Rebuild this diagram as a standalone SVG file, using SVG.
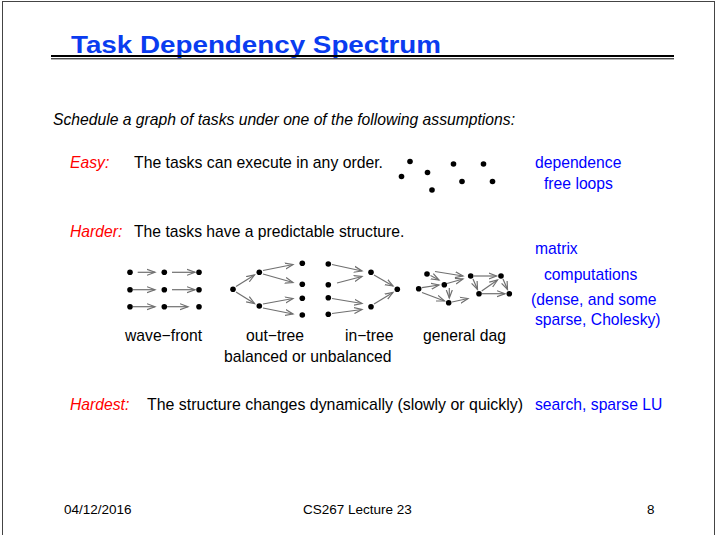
<svg xmlns="http://www.w3.org/2000/svg" width="717" height="535" viewBox="0 0 717 535">
<style>
.t{font-family:"Liberation Sans",Arial,sans-serif;font-size:15.7px;fill:#000}
.i{font-style:italic}
.r{fill:#ff0000}
.b{fill:#0000ff}
.f{font-family:"Liberation Sans",Arial,sans-serif;font-size:13.5px;fill:#000}
.e line{stroke:#707070;stroke-width:1.2;marker-end:url(#ah)}
.d circle{fill:#000}
</style>
<defs>
<marker id="ah" markerUnits="userSpaceOnUse" markerWidth="10" markerHeight="8" refX="8" refY="4" orient="auto">
<path d="M0,1 L8,4 L0,7" fill="none" stroke="#707070" stroke-width="1.2"/>
</marker>
</defs>
<rect width="717" height="535" fill="#fff"/>
<rect x="2.5" y="1.5" width="712" height="540" fill="none" stroke="#444" stroke-width="1"/>

<g id="title">
<text x="71" y="53" font-family="'Liberation Sans',Arial,sans-serif" font-size="23" font-weight="bold" fill="#0a3cf0" textLength="370" lengthAdjust="spacingAndGlyphs">Task Dependency Spectrum</text>
<line x1="51" y1="56" x2="674" y2="56" stroke="#000" stroke-width="2"/>
<line x1="51" y1="58.8" x2="674" y2="58.8" stroke="#000" stroke-width="1"/>
</g>

<g id="intro"><text class="t i" x="53" y="125" textLength="462" lengthAdjust="spacingAndGlyphs">Schedule a graph of tasks under one of the following assumptions:</text></g>

<g id="easy">
<text class="t i r" x="70" y="168">Easy:</text>
<text class="t" x="134" y="168" textLength="249" lengthAdjust="spacingAndGlyphs">The tasks can execute in any order.</text>
<g class="d">
<circle cx="410" cy="161.5" r="2.8"/><circle cx="401.5" cy="176.5" r="2.8"/><circle cx="427.5" cy="172.5" r="2.8"/><circle cx="432" cy="190" r="2.8"/>
<circle cx="453.5" cy="164" r="2.8"/><circle cx="462" cy="181.5" r="2.8"/><circle cx="483.5" cy="164" r="2.8"/><circle cx="492.5" cy="181.5" r="2.8"/>
</g>
<text class="t b" x="535" y="168">dependence</text>
<text class="t b" x="544" y="189">free loops</text>
</g>

<g id="harder">
<text class="t i r" x="70" y="237">Harder:</text>
<text class="t" x="134" y="237">The tasks have a predictable structure.</text>
<text class="t b" x="535" y="254">matrix</text>
<text class="t b" x="544" y="280">computations</text>
<text class="t b" x="531" y="305">(dense, and some</text>
<text class="t b" x="535" y="325">sparse, Cholesky)</text>
</g>

<g id="wavefront">
<g class="d">
<circle cx="130" cy="272.3" r="2.8"/><circle cx="164.3" cy="272.3" r="2.8"/><circle cx="199" cy="272.3" r="2.8"/>
<circle cx="130" cy="289.7" r="2.8"/><circle cx="164.3" cy="289.7" r="2.8"/><circle cx="199" cy="289.7" r="2.8"/>
<circle cx="130" cy="306.7" r="2.8"/><circle cx="164.3" cy="306.7" r="2.8"/><circle cx="199" cy="306.7" r="2.8"/>
</g>
<text class="t" x="125" y="341">wave−front</text>
</g>

<g id="outtree">
<g class="d">
<circle cx="233" cy="289.3" r="2.8"/><circle cx="259.3" cy="272.3" r="2.8"/><circle cx="259.3" cy="306" r="2.8"/>
<circle cx="302.3" cy="263.3" r="2.8"/><circle cx="302.3" cy="284.3" r="2.8"/><circle cx="302.3" cy="298.3" r="2.8"/><circle cx="302.3" cy="315" r="2.8"/>
</g>
<text class="t" x="246" y="341">out−tree</text>
</g>

<g id="intree">
<g class="d">
<circle cx="328.3" cy="264" r="2.8"/><circle cx="328.3" cy="284.7" r="2.8"/><circle cx="328.3" cy="297.7" r="2.8"/><circle cx="328.3" cy="314.3" r="2.8"/>
<circle cx="371" cy="272.3" r="2.8"/><circle cx="371" cy="306.7" r="2.8"/><circle cx="397.3" cy="289.3" r="2.8"/>
</g>
<text class="t" x="345" y="341">in−tree</text>
</g>

<g id="dag">
<g class="d">
<circle cx="427" cy="274" r="2.8"/><circle cx="418.7" cy="288.7" r="2.8"/><circle cx="444.3" cy="284.7" r="2.8"/><circle cx="448.7" cy="302.7" r="2.8"/>
<circle cx="470.7" cy="276" r="2.8"/><circle cx="501" cy="276" r="2.8"/><circle cx="479" cy="293.7" r="2.8"/><circle cx="509.3" cy="293.7" r="2.8"/>
</g>
<text class="t" x="423" y="341">general dag</text>
</g>

<g id="balanced"><text class="t" x="224" y="362">balanced or unbalanced</text></g>

<g id="connectors" class="e">
<line x1="137.7" y1="272.3" x2="155" y2="272.3"/><line x1="172" y1="272.3" x2="195" y2="272.3"/>
<line x1="133" y1="289.7" x2="155" y2="289.7"/><line x1="172" y1="289.7" x2="195" y2="289.7"/>
<line x1="133" y1="306.7" x2="155" y2="306.7"/><line x1="167" y1="306.7" x2="188" y2="306.7"/>

<line x1="236" y1="286.5" x2="254.5" y2="275"/><line x1="236" y1="292" x2="254.5" y2="303.5"/>
<line x1="263" y1="270.5" x2="293" y2="264.5"/><line x1="263" y1="274" x2="293" y2="282.5"/>
<line x1="263" y1="304" x2="293" y2="298.5"/><line x1="263" y1="308" x2="293" y2="314"/>

<line x1="332" y1="264.5" x2="362" y2="271"/><line x1="337" y1="283" x2="362" y2="276.5"/>
<line x1="332" y1="298.5" x2="362" y2="303.5"/><line x1="332" y1="313.5" x2="362" y2="309.5"/>
<line x1="374" y1="275" x2="393" y2="286"/><line x1="374" y1="304" x2="393" y2="292.5"/>

<line x1="435" y1="271.5" x2="463" y2="276"/><line x1="430.5" y1="275.5" x2="439" y2="280"/>
<line x1="422" y1="287.7" x2="439" y2="285"/><line x1="447" y1="283.5" x2="463" y2="279"/>
<line x1="449.3" y1="288" x2="449.3" y2="298"/><line x1="422" y1="292.5" x2="444.5" y2="301"/>
<line x1="452" y1="302" x2="468" y2="298.5"/>
<line x1="474" y1="276" x2="496.5" y2="276"/><line x1="473" y1="279" x2="477.5" y2="289.5"/>
<line x1="481.7" y1="291" x2="497.5" y2="280"/><line x1="482" y1="293.7" x2="505" y2="293.7"/>
<line x1="503" y1="279" x2="507.5" y2="289.5"/>
</g>

<g id="hardest">
<text class="t i r" x="70" y="410">Hardest:</text>
<text class="t" x="147" y="410" textLength="376" lengthAdjust="spacingAndGlyphs">The structure changes dynamically (slowly or quickly)</text>
<text class="t b" x="535" y="410">search, sparse LU</text>
</g>

<g id="footer">
<text class="f" x="64" y="514">04/12/2016</text>
<text class="f" x="303" y="514">CS267 Lecture 23</text>
<text class="f" x="647" y="514">8</text>
</g>
</svg>
